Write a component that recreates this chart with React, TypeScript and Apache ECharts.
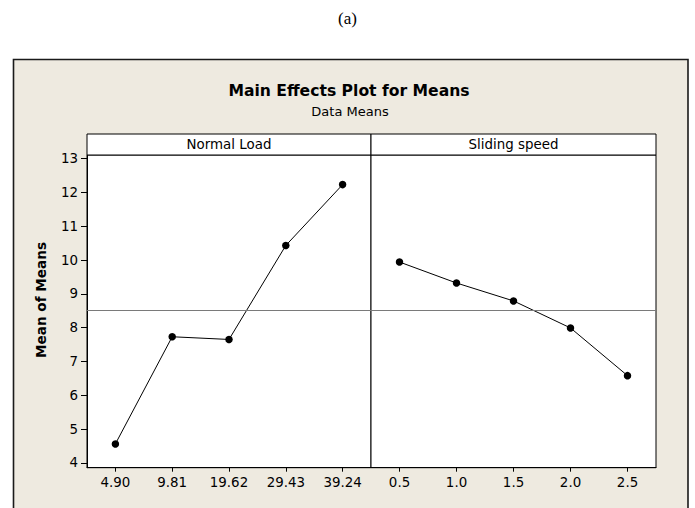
import React, { useEffect, useRef } from "react";
import * as echarts from "echarts";

const loadCats = ["4.90", "9.81", "19.62", "29.43", "39.24"];
const loadMeans = [4.56, 7.73, 7.65, 10.43, 12.23];
const speedCats = ["0.5", "1.0", "1.5", "2.0", "2.5"];
const speedMeans = [9.94, 9.32, 8.79, 7.99, 6.58];
const grandMean = 8.51;
const yTicks = [4, 5, 6, 7, 8, 9, 10, 11, 12, 13];
const yMin = 3.857;
const yMax = 13.106;

const FONT = "'DejaVu Sans', Verdana, sans-serif";

export default function App() {
  const ref = useRef<HTMLDivElement>(null);
  useEffect(() => {
    if (!ref.current) return;
    const chart = echarts.init(ref.current, null, { renderer: "svg" });
    const xAxisBase = {
      type: "category",
      boundaryGap: true,
      axisLine: { show: true, lineStyle: { color: "#000", width: 1 } },
      axisTick: { show: true, alignWithLabel: true, length: 4, lineStyle: { color: "#000" } },
      axisLabel: { color: "#000", fontSize: 13.4, fontFamily: FONT, margin: 8 },
      splitLine: { show: false },
    };
    const yAxisBase = {
      type: "value",
      min: yMin,
      max: yMax,
      splitLine: { show: false },
    };
    const lineSeries = (data: number[], idx: number) => ({
      type: "line",
      xAxisIndex: idx,
      yAxisIndex: idx,
      data,
      symbol: "circle",
      symbolSize: 7.5,
      itemStyle: { color: "#000" },
      lineStyle: { color: "#000", width: 1 },
      markLine: {
        silent: true,
        symbol: "none",
        label: { show: false },
        lineStyle: { color: "#7a7a7a", width: 1, type: "solid" },
        data: [{ yAxis: grandMean }],
      },
      z: 3,
    });
    chart.setOption({
      animation: false,
      backgroundColor: "#ffffff",
      grid: [
        { left: 87, right: 324, top: 155, bottom: 40.3, show: true, backgroundColor: "#fff", borderColor: "#000", borderWidth: 1 },
        { left: 371, right: 39, top: 155, bottom: 40.3, show: true, backgroundColor: "#fff", borderColor: "#000", borderWidth: 1 },
      ],
      xAxis: [
        { ...xAxisBase, gridIndex: 0, data: loadCats },
        { ...xAxisBase, gridIndex: 1, data: speedCats },
      ],
      yAxis: [
        {
          ...yAxisBase,
          gridIndex: 0,
          axisLine: { show: true, lineStyle: { color: "#000", width: 1 } },
          axisTick: { show: true, length: 6, lineStyle: { color: "#000" }, customValues: yTicks },
          axisLabel: { color: "#000", fontSize: 13.4, fontFamily: FONT, margin: 9, customValues: yTicks },
        },
        {
          ...yAxisBase,
          gridIndex: 1,
          axisLine: { show: false },
          axisTick: { show: false },
          axisLabel: { show: false },
        },
      ],
      series: [lineSeries(loadMeans, 0), lineSeries(speedMeans, 1)],
      graphic: [
        {
          type: "rect",
          z: -100,
          shape: { x: 13.5, y: 59.5, width: 674.5, height: 470 },
          style: { fill: "#EEEAE0", stroke: "#1a1a1a", lineWidth: 1.6 },
        },
        {
          type: "text",
          z: 10,
          x: 347.5,
          y: 18,
          style: { text: "(a)", fontSize: 17, fontFamily: "'Liberation Serif', 'Times New Roman', serif", fill: "#000", align: "center", verticalAlign: "middle" },
        },
        {
          type: "text",
          z: 10,
          x: 349,
          y: 91,
          style: { text: "Main Effects Plot for Means", fontSize: 15.6, fontWeight: "bold", fontFamily: FONT, fill: "#000", align: "center", verticalAlign: "middle" },
        },
        {
          type: "text",
          z: 10,
          x: 350,
          y: 111,
          style: { text: "Data Means", fontSize: 13, fontFamily: FONT, fill: "#000", align: "center", verticalAlign: "middle" },
        },
        {
          type: "rect",
          z: 10,
          shape: { x: 87, y: 134, width: 284, height: 21 },
          style: { fill: "#fff", stroke: "#000", lineWidth: 1 },
        },
        {
          type: "rect",
          z: 10,
          shape: { x: 371, y: 134, width: 285, height: 21 },
          style: { fill: "#fff", stroke: "#000", lineWidth: 1 },
        },
        {
          type: "text",
          z: 11,
          x: 229,
          y: 144.5,
          style: { text: "Normal Load", fontSize: 13.4, fontFamily: FONT, fill: "#000", align: "center", verticalAlign: "middle" },
        },
        {
          type: "text",
          z: 11,
          x: 513.5,
          y: 144.5,
          style: { text: "Sliding speed", fontSize: 13.4, fontFamily: FONT, fill: "#000", align: "center", verticalAlign: "middle" },
        },
        {
          type: "text",
          z: 10,
          x: 40.5,
          y: 300,
          rotation: Math.PI / 2,
          style: { text: "Mean of Means", fontSize: 13.6, fontWeight: "bold", fontFamily: FONT, fill: "#000", align: "center", verticalAlign: "middle" },
        },
      ],
    });
    return () => chart.dispose();
  }, []);
  return (
    <div
      ref={ref}
      style={{ position: "fixed", left: 0, top: 0, width: 695, height: 508 }}
    />
  );
}
